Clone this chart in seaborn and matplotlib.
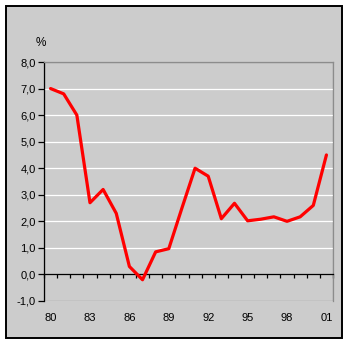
import matplotlib
matplotlib.use("Agg")
import matplotlib.pyplot as plt
import matplotlib.patches as mpatches
import seaborn as sns
import pandas as pd
import numpy as np

years = list(range(1980, 2002))
values = [7.0, 6.8, 6.0, 2.7, 3.2, 2.3, 0.3, -0.2, 0.85, 0.97, 2.5, 4.0,
          3.7, 2.1, 2.68, 2.02, 2.08, 2.17, 2.0, 2.17, 2.6, 4.5]
x_tick_labels = ["80", "83", "86", "89", "92", "95", "98", "01"]
y_ticks = [-1.0, 0.0, 1.0, 2.0, 3.0, 4.0, 5.0, 6.0, 7.0, 8.0]
y_label = "%"

sns.set_theme(style="white")
plt.rcParams['font.family'] = ['Liberation Sans', 'DejaVu Sans']
plt.rcParams['text.color'] = 'black'
plt.rcParams['xtick.color'] = 'black'
plt.rcParams['ytick.color'] = 'black'

bg = "#cccccc"
df = pd.DataFrame({"idx": np.arange(len(years)), "year": years, "value": values})

fig = plt.figure(figsize=(3.48, 3.44), dpi=100)
fig.patch.set_facecolor("white")
fig.patches.append(mpatches.Rectangle((5.5/348, 5.7/344), 336/348, 332.6/344,
                                      transform=fig.transFigure, facecolor=bg,
                                      edgecolor="black", linewidth=1.4, zorder=-10))

ax = fig.add_axes([44/348, 43/344, 289/348, 239/344])
ax.set_zorder(1)
ax.set_facecolor(bg)

for v in y_ticks:
    if v not in (-1.0, 0.0, 8.0):
        ax.axhline(v, color="white", lw=0.9, zorder=1)

sns.lineplot(data=df, x="idx", y="value", ax=ax, color="#ff0000", lw=2.3, zorder=3)

ax.set_xlim(-0.5, len(years) - 0.5)
ax.set_ylim(-1.0, 8.0)

for s in ["top", "right"]:
    ax.spines[s].set_color("#8c8c8c")
    ax.spines[s].set_linewidth(0.9)
ax.spines["left"].set_color("black")
ax.spines["left"].set_linewidth(0.9)
ax.spines["bottom"].set_position(("data", 0))
ax.spines["bottom"].set_color("black")
ax.spines["bottom"].set_linewidth(0.9)
ax.add_patch(mpatches.Rectangle((0, 0), 1, 1, transform=ax.transAxes, fill=False,
                                edgecolor="#8c8c8c", lw=0.9, zorder=0))

ax.set_yticks(y_ticks)
ax.set_yticklabels([f"{v:.1f}".replace(".", ",") for v in y_ticks], fontsize=8)
ax.tick_params(axis="y", direction="out", length=4, width=0.9, color="black", pad=2, left=True)

ax.set_xticks(np.arange(0, len(years), 3))
ax.set_xticklabels(x_tick_labels, fontsize=8)
ax.set_xticks(np.arange(-0.5, len(years), 1), minor=True)
ax.tick_params(axis="x", which="major", length=0, pad=27.5, bottom=True)
ax.tick_params(axis="x", which="minor", direction="out", length=3, width=0.9, color="black", bottom=True)

ax.set_xlabel("")
ax.set_ylabel("")
fig.text(41/348, 1 - 43/344, y_label, fontsize=8.5, ha="center", va="center")

fig.savefig("out.png", dpi=100)
